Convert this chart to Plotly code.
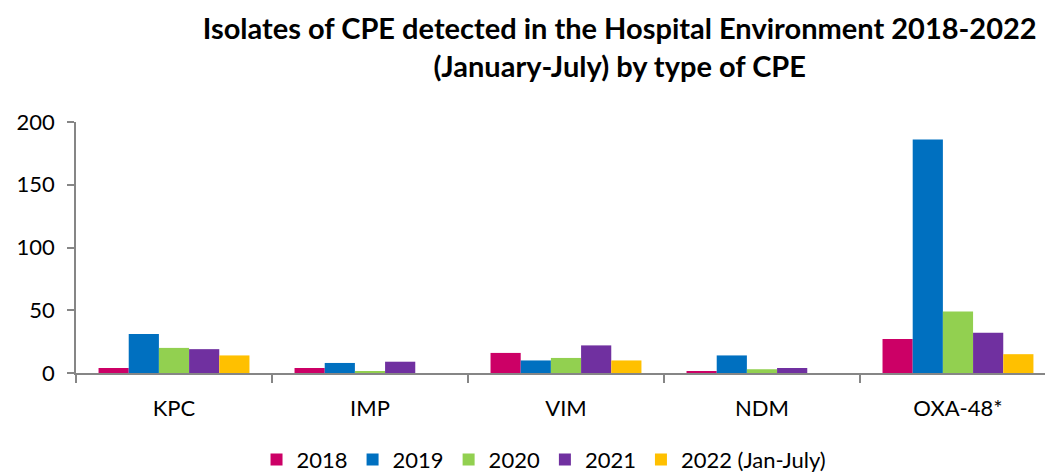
import plotly.graph_objects as go

categories = ["KPC", "IMP", "VIM", "NDM", "OXA-48*"]
series_names = ["2018", "2019", "2020", "2021", "2022 (Jan-July)"]
v2018 = [4, 4, 16, 1, 27]
v2019 = [31, 8, 10, 14, 186]
v2020 = [20, 1, 12, 3, 49]
v2021 = [19, 9, 22, 4, 32]
v2022 = [14, 0, 10, 0, 15]
colors = ["#CC0066", "#0070C0", "#92D050", "#7030A0", "#FFC000"]

fig = go.Figure()
for name, vals, col in zip(series_names, [v2018, v2019, v2020, v2021, v2022], colors):
    fig.add_trace(go.Bar(x=categories, y=vals, name=name, marker_color=col,
                         marker_line_width=0))

fig.update_layout(
    width=1045, height=474,
    paper_bgcolor="white", plot_bgcolor="white",
    margin=dict(l=76, r=0, t=122, b=101, autoexpand=False),
    barmode="group", bargap=0.23, bargroupgap=0,
    font=dict(family="Lato, Carlito, Calibri, sans-serif", size=22, color="black"),
    title=dict(text="<b>Isolates of CPE detected in the Hospital Environment 2018-2022<br>(January-July) by type of CPE</b>",
               x=0.593, xanchor="center", yref="container", y=0.918, yanchor="middle",
               font=dict(size=29, family="Lato, sans-serif")),
    legend=dict(orientation="h", x=0.483, xanchor="center", yref="container", y=0.03,
                yanchor="middle", font=dict(size=22), itemwidth=30, traceorder="normal"),
    showlegend=True,
)
fig.update_xaxes(range=[-0.5, 4.444], showline=True, linecolor="#868686", linewidth=1.5,
                 ticks="outside", tickson="boundaries", ticklen=8, tickcolor="#868686",
                 tickwidth=1.5, ticklabelstandoff=15, showgrid=False, tickfont=dict(size=22),
                 automargin=False)
fig.update_yaxes(range=[0, 200], tickvals=[0, 50, 100, 150, 200], showline=True,
                 linecolor="#868686", linewidth=1.5, ticks="outside", ticklen=7,
                 tickcolor="#868686", tickwidth=1.5, showgrid=False, zeroline=False,
                 ticklabelstandoff=8, tickfont=dict(size=22), automargin=False)

fig.write_html("out.html", config={"displayModeBar": False},
               post_script="document.body.style.margin='0';document.body.style.overflow='hidden';")
